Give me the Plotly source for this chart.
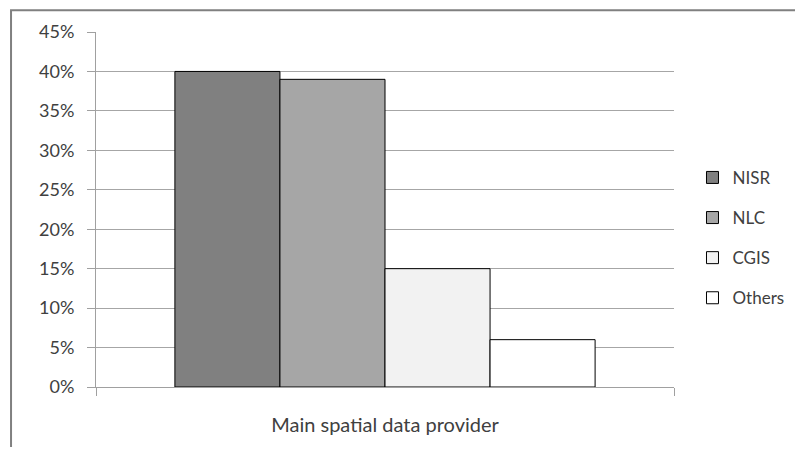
import plotly.graph_objects as go

categories = ["Main spatial data provider"]
series_names = ["NISR", "NLC", "CGIS", "Others"]
series_values = [[0.40], [0.39], [0.15], [0.06]]
series_colors = ["#808080", "#a6a6a6", "#f2f2f2", "#ffffff"]

font_family = "Lato"
text_color = "#404040"

fig = go.Figure()
for i, (name, vals, col) in enumerate(zip(series_names, series_values, series_colors)):
    fig.add_trace(go.Bar(
        x=categories, y=vals, name=name, legendgroup=name,
        marker=dict(color=col, line=dict(color="#000000", width=1)),
    ))

# page has an 8px body margin: figure is offset by (8, 8)
fig.update_layout(
    width=787, height=439,
    margin=dict(l=88, r=121, t=24, b=60, autoexpand=False),
    paper_bgcolor="white", plot_bgcolor="white",
    barmode="group", bargap=0.273, bargroupgap=0,
    font=dict(family=font_family, size=18, color=text_color),
    showlegend=True,
    legend=dict(x=1.032, xanchor="left", y=0.42, yanchor="middle",
                tracegroupgap=15, font=dict(size=17, color=text_color),
                bgcolor="rgba(0,0,0,0)"),
    xaxis=dict(type="category", showline=True, linecolor="#a0a0a0", linewidth=1,
               ticks="outside", tickson="boundaries", ticklen=8, tickcolor="#a0a0a0",
               showgrid=False, automargin=False, ticklabelstandoff=20,
               tickfont=dict(size=20, color=text_color)),
    yaxis=dict(range=[0, 0.45], dtick=0.05, tickformat=".0%", showline=True,
               linecolor="#a0a0a0", linewidth=1, ticks="outside", ticklen=8,
               tickcolor="#a0a0a0", showgrid=True, gridcolor="#a6a6a6",
               gridwidth=1, zeroline=False, automargin=False, ticklabelstandoff=9,
               tickfont=dict(size=18, color=text_color)),
    shapes=[dict(type="rect", xref="paper", yref="paper", x0=-0.147, y0=-2,
                 x1=2, y1=1.0615, line=dict(color="#808080", width=2),
                 fillcolor="rgba(0,0,0,0)", layer="below")],
)

fig.write_html("out.html")
